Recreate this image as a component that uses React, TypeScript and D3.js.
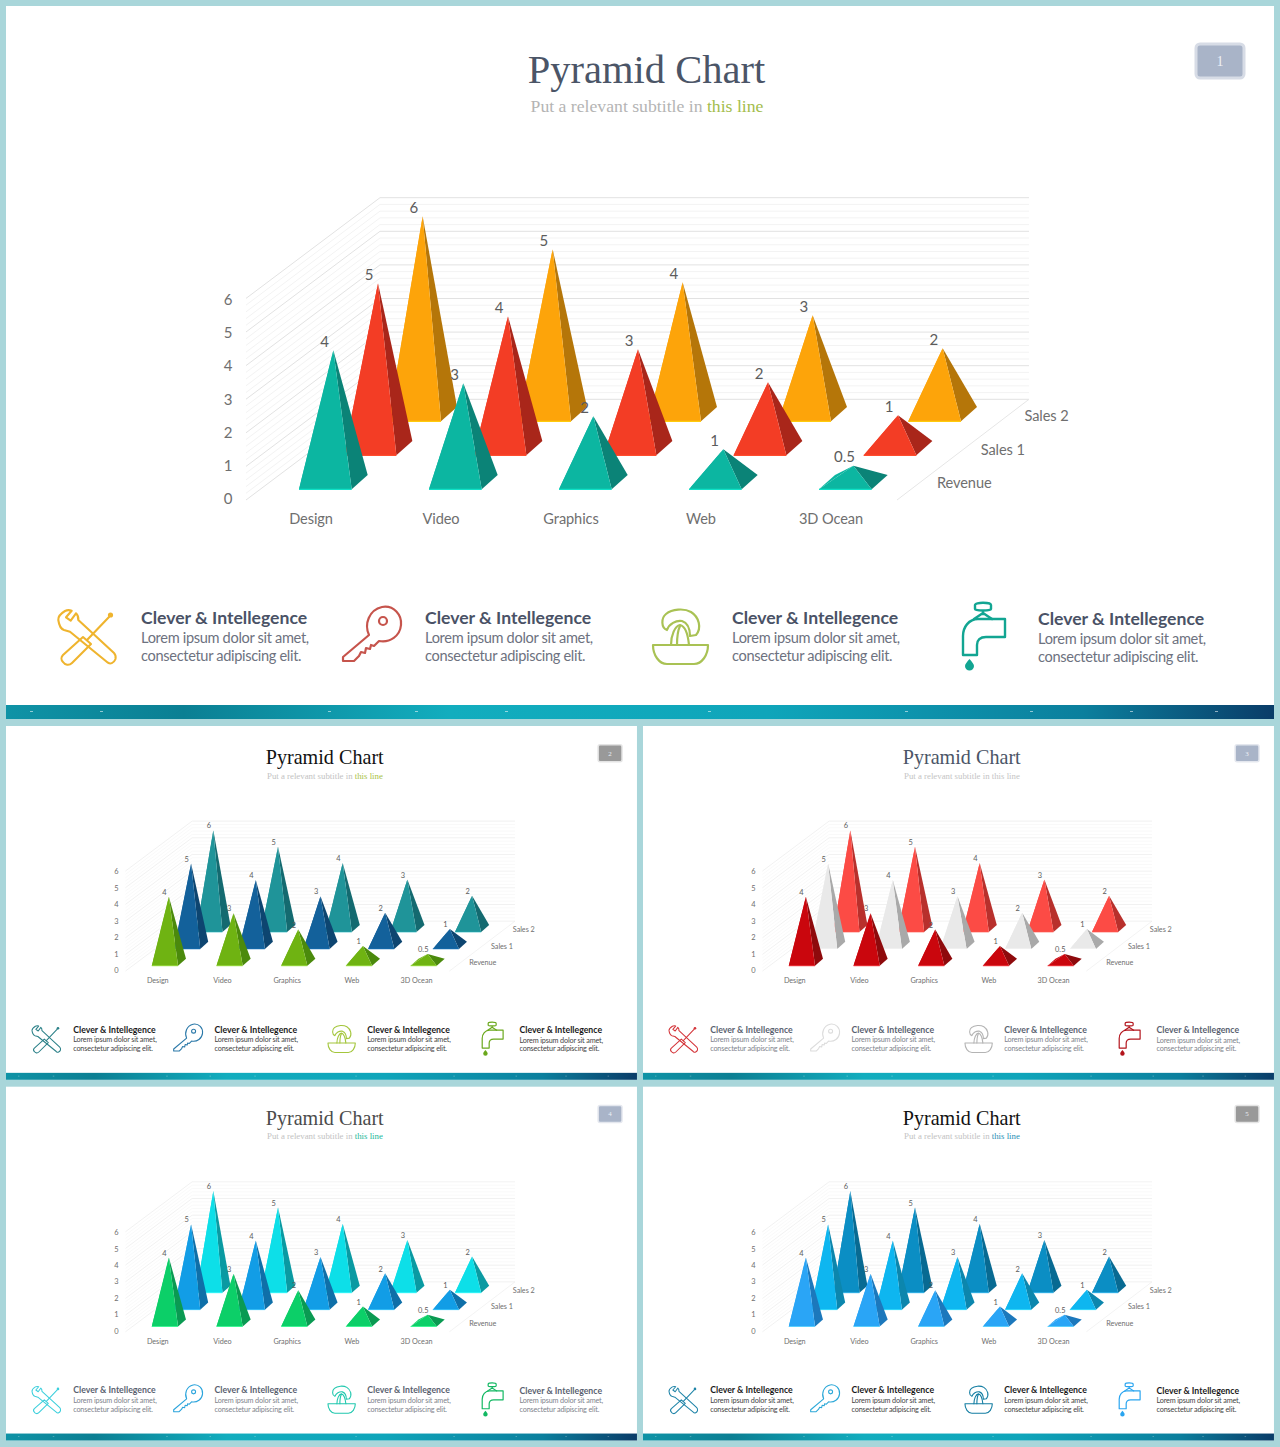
import React from "react";
import * as d3 from "d3";

const categories = ["Design", "Video", "Graphics", "Web", "3D Ocean"];
const seriesNames = ["Revenue", "Sales 1", "Sales 2"];
const revenue = [4, 3, 2, 1, 0.5];
const sales1 = [5, 4, 3, 2, 1];
const sales2 = [6, 5, 4, 3, 2];
const seriesValues = [revenue, sales1, sales2];
const yTicks = [0, 1, 2, 3, 4, 5, 6];
const minorTicks = d3.range(0, 6.01, 0.2).filter((v) => Math.abs(v - Math.round(v)) > 0.01);
const speckles = [30, 100, 328, 415, 505, 708, 905, 1030, 1130, 1215];

const heading = "Clever & Intellegence";
const bodyLine1 = "Lorem ipsum dolor sit amet,";
const bodyLine2 = "consectetur adipiscing elit.";
const blurbX = [141, 425, 732, 1038];
const blurbDy = [0, 0, 0, 1];

interface Theme {
  id: number;
  x: number;
  y: number;
  k: number;
  ky: number;
  title: string;
  sub: string;
  accent: string;
  badge: string;
  badgeEdge: string;
  head: string;
  body: string;
  front: string[];
  side: string[];
  icons: string[];
}

const themes: Theme[] = [
  { id: 1, x: 6, y: 6, k: 1, ky: 1, title: "#4b5567", sub: "#b4b4b4", accent: "#a3bd4c", badge: "#a9b4c8", badgeEdge: "#d7dce6", head: "#4a5266", body: "#6d7280",
    front: ["#0cb6a1", "#f33d25", "#fda40a"], side: ["#0b8377", "#a9261a", "#b57609"], icons: ["#efb42e", "#c6544c", "#a9c254", "#12a592"] },
  { id: 2, x: 6, y: 726, k: 0.4976, ky: 0.4962, title: "#111111", sub: "#c2c2c2", accent: "#a9c246", badge: "#999999", badgeEdge: "#e4e4e4", head: "#1a1a1a", body: "#444444",
    front: ["#6fb312", "#13619b", "#1f9499"], side: ["#4b8a0c", "#0d4570", "#146a70"], icons: ["#2b8088", "#2a78a8", "#a4c63c", "#6aa81c"] },
  { id: 3, x: 643, y: 726, k: 0.4976, ky: 0.4962, title: "#4b5567", sub: "#c4c4c4", accent: "#c4c4c4", badge: "#a9b4c8", badgeEdge: "#e4e7ee", head: "#5a6270", body: "#80848c",
    front: ["#ca060d", "#e9e9e9", "#fc4b45"], side: ["#8e0a0c", "#a9a9a9", "#b8302c"], icons: ["#d4353a", "#dcdcdc", "#b4b4b4", "#b3141c"] },
  { id: 4, x: 6, y: 1086.7, k: 0.4976, ky: 0.4962, title: "#4b4b4b", sub: "#c2c2c2", accent: "#22b89a", badge: "#a9b4c8", badgeEdge: "#e4e7ee", head: "#5a6270", body: "#80848c",
    front: ["#0ccf68", "#129de6", "#0ddfe8"], side: ["#0a9a52", "#0f6fa8", "#0a9aa2"], icons: ["#3ccfdc", "#2ba4dc", "#20c8ae", "#12b862"] },
  { id: 5, x: 643, y: 1086.7, k: 0.4976, ky: 0.4962, title: "#111111", sub: "#c2c2c2", accent: "#1f8fb5", badge: "#999999", badgeEdge: "#e4e4e4", head: "#1a1a1a", body: "#444444",
    front: ["#2aa5f6", "#0eb6f0", "#0b8ec4"], side: ["#1c78bc", "#0c86ad", "#086a92"], icons: ["#1f84a8", "#2ca8d8", "#137da2", "#2aa5f0"] },
];

// chart geometry, in the coordinates of the large slide
const floorY = 489.3;
const pyrW = 52.7;
const pyrDepth: [number, number] = [16, -14.3];
const seriesStep = d3.scalePoint<string>().domain(seriesNames).range([0, 1]);
const xScale = d3.scalePoint<string>().domain(categories).range([299, 819]);
const heightScale = d3.scaleLinear().domain([0, 6]).range([0, 198]);
const wallY = d3.scaleLinear().domain([0, 6]).range([399.3, 197.7]);
const tickLabelY = d3.scaleLinear().domain([0, 6]).range([504, 305]);
const wallLeft = 380;
const wallRight = 1029;
const wallDx = 134;
const wallDy = 100.7;
const poly = d3.line();

function Pyramid({ cat, ser, value, front, side }: { cat: string; ser: string; value: number; front: string; side: string }) {
  const t = seriesStep(ser) as number;
  const x0 = (xScale(cat) as number) + t * 89.3;
  const y0 = floorY - t * 68;
  const fl: [number, number] = [x0, y0];
  const fr: [number, number] = [x0 + pyrW, y0];
  const br: [number, number] = [fr[0] + pyrDepth[0], fr[1] + pyrDepth[1]];
  const bl: [number, number] = [fl[0] + pyrDepth[0], fl[1] + pyrDepth[1]];
  const apex: [number, number] = [x0 + (pyrW + pyrDepth[0]) / 2, y0 + pyrDepth[1] / 2 - heightScale(value)];
  const edge = d3.color(front)!.brighter(0.6).formatHex();
  return (
    <g>
      <path d={poly([fl, bl, apex])! + "Z"} fill={front} />
      <path d={poly([fr, br, apex])! + "Z"} fill={side} />
      <path d={poly([fl, fr, apex])! + "Z"} fill={front} />
      <line x1={fl[0]} x2={fr[0]} y1={y0} y2={y0} stroke={edge} strokeWidth={1.2} />
    </g>
  );
}

function apexOf(cat: string, ser: string, value: number) {
  const t = seriesStep(ser) as number;
  return {
    x: (xScale(cat) as number) + t * 89.3 + (pyrW + pyrDepth[0]) / 2,
    y: floorY - t * 68 + pyrDepth[1] / 2 - heightScale(value),
  };
}

function Chart({ th }: { th: Theme }) {
  const sans = "Lato, 'Open Sans', sans-serif";
  const grey = "#6f6f6f";
  return (
    <g>
      {minorTicks.map((v) => (
        <g key={v} stroke="#f3f3f3" strokeWidth={1}>
          <line x1={wallLeft} x2={wallRight} y1={wallY(v)} y2={wallY(v)} />
          <line x1={wallLeft} x2={wallLeft - wallDx} y1={wallY(v)} y2={wallY(v) + wallDy} />
        </g>
      ))}
      {yTicks.map((v) => (
        <g key={v} stroke="#e2e2e2" strokeWidth={1}>
          <line x1={wallLeft} x2={wallRight} y1={wallY(v)} y2={wallY(v)} />
          <line x1={wallLeft} x2={wallLeft - wallDx} y1={wallY(v)} y2={wallY(v) + wallDy} />
        </g>
      ))}
      <line x1={wallRight} x2={wallRight - 132} y1={wallY(0)} y2={wallY(0) + wallDy} stroke="#e6e6e6" />
      {yTicks.map((v) => (
        <text key={v} x={228} y={tickLabelY(v)} fontFamily={sans} fontSize={15} fill={grey} textAnchor="middle">{v}</text>
      ))}
      {[...seriesNames].reverse().map((ser) => {
        const si = seriesNames.indexOf(ser);
        const vals = seriesValues[si];
        return (
          <g key={ser}>
            {categories.map((c, i) => (
              <Pyramid key={c} cat={c} ser={ser} value={vals[i]} front={th.front[si]} side={th.side[si]} />
            ))}
          </g>
        );
      })}
      {seriesNames.map((ser, si) =>
        categories.map((c, i) => {
          const a = apexOf(c, ser, seriesValues[si][i]);
          return (
            <text key={ser + c} x={a.x - 8.8} y={a.y - 3.6} fontFamily={sans} fontSize={15} fill="#5c5c5c" textAnchor="middle">
              {seriesValues[si][i]}
            </text>
          );
        })
      )}
      {categories.map((c) => (
        <text key={c} x={(xScale(c) as number) + 12} y={524} fontFamily={sans} fontSize={14.6} letterSpacing={-0.1} fill={grey} textAnchor="middle">{c}</text>
      ))}
      {seriesNames.map((ser) => {
        const t = seriesStep(ser) as number;
        return (
          <text key={ser} x={937 + t * 87.5} y={488 - t * 67} fontFamily={sans} fontSize={14.6} letterSpacing={-0.1} fill={grey}>{ser}</text>
        );
      })}
    </g>
  );
}

function Tools({ c }: { c: string }) {
  return (
    <g transform="translate(58,609)" fill="none" stroke={c} strokeWidth={2.1} strokeLinejoin="round" strokeLinecap="round">
      <path d="M7 2 C2 5 0 8 0.3 11 C1 16 3 20 6 21 L12 22.7 L49 53 C52 56 56 54 57.5 50 C58 47 57 45 56 44 L20.3 11 C20.5 8 20 6 18 4.3 L12.7 11.7 L8 8.3 L13.7 1.7 C11 0.8 9 1 7 2 Z" />
      <path d="M25 28 L33 35 L14 54 C11 57 7 56 5 53 C3 51 3 48 5 46 Z" />
      <path d="M29 31 L51 8" />
      <circle cx={52.5} cy={6} r={2.6} fill={c} stroke="none" />
    </g>
  );
}
function Key({ c }: { c: string }) {
  return (
    <g transform="translate(342,606)" fill="none" stroke={c} strokeWidth={2.2} strokeLinejoin="round" strokeLinecap="round">
      <path d="M27 29 C22 18 27 4 40 1 C52 -1 60 9 59 19 C58 30 48 37 37 35 L32 40 L29 39 L28 43 L24 42 L23 47 L19 46 L17 50 L12 55 L1 55 L1 51 Z" />
      <circle cx={41} cy={15} r={4} />
    </g>
  );
}
function Juicer({ c }: { c: string }) {
  return (
    <g transform="translate(652,608)" fill="none" stroke={c} strokeWidth={2.2} strokeLinejoin="round" strokeLinecap="round">
      <path d="M1 37 L56 37 C56 47 50 56 42 56 L15 56 C7 56 1 47 1 37 Z" />
      <path d="M19 37 C19 27 23 18 28 17 C33 18 36 27 37 37" />
      <path d="M25 37 C25 29 26 22 28 18" />
      <path d="M15 22 C9 20 9 10 14 6 C20 1 32 0 39 4 C47 9 50 20 44 27 L38 28 M15 22 C17 16 24 12 30 13 C36 15 38 20 38 28" />
    </g>
  );
}
function Tap({ c }: { c: string }) {
  return (
    <g transform="translate(962,602)" fill="none" stroke={c} strokeWidth={2.4} strokeLinejoin="round" strokeLinecap="round">
      <path d="M16 17 L43 17 L43 35 L24 35 C18 35 15 38 15 43 L15 53 L1 53 L1 34 C1 25 7 17 16 17 Z" />
      <path d="M13 3 C13 0 29 0 29 3 L29 7 C29 9 13 9 13 7 Z M21 9 L21 12 M12 17 L21 11 L30 17" />
      <path d="M7.5 57 C5 60 3 62 3 64 a4.5 4.5 0 0 0 9 0 C12 62 10 60 7.5 57Z" fill={c} stroke="none" />
    </g>
  );
}
const iconSet = [Tools, Key, Juicer, Tap];

function Slide({ th }: { th: Theme }) {
  const sans = "Lato, 'Open Sans', sans-serif";
  const serif = "'Liberation Serif', 'DejaVu Serif', serif";
  return (
    <g transform={`translate(${th.x - 6 * th.k},${th.y - 6 * th.ky}) scale(${th.k},${th.ky})`}>
      <rect x={6} y={6} width={1268} height={713} fill="#ffffff" />
      <text x={646.5} y={83} fontFamily={serif} fontSize={40.5} fill={th.title} textAnchor="middle">Pyramid Chart</text>
      <text x={647} y={112} fontFamily={serif} fontSize={17.7} fill={th.sub} textAnchor="middle">
        Put a relevant subtitle in <tspan fill={th.accent}>this line</tspan>
      </text>
      <rect x={1196} y={44} width={48} height={34} rx={4} fill={th.badge} stroke={th.badgeEdge} strokeWidth={3} />
      <text x={1220} y={66} fontFamily={serif} fontSize={14} fill="#eef1f6" textAnchor="middle">{th.id}</text>
      <Chart th={th} />
      {iconSet.map((Icon, i) => (
        <Icon key={i} c={th.icons[i]} />
      ))}
      {blurbX.map((x, i) => (
        <g key={x}>
          <text x={x} y={624 + blurbDy[i]} fontFamily={sans} fontWeight={700} fontSize={17.6} fill={th.head}>{heading}</text>
          <text x={x} y={643 + blurbDy[i]} fontFamily={sans} fontSize={14.6} letterSpacing={-0.33} fill={th.body}>{bodyLine1}</text>
          <text x={x} y={661 + blurbDy[i]} fontFamily={sans} fontSize={14.6} letterSpacing={-0.33} fill={th.body}>{bodyLine2}</text>
        </g>
      ))}
      <rect x={6} y={705} width={1268} height={14} fill="url(#barGrad)" />
      {speckles.map((sx) => (
        <rect key={sx} x={sx} y={711} width={3} height={1} fill="#ffffff" opacity={0.55} />
      ))}
    </g>
  );
}

export default function App() {
  return (
    <svg width={1280} height={1447} viewBox="0 0 1280 1447" style={{ position: "absolute", left: 0, top: 0, display: "block" }}>
      <defs>
        <linearGradient id="barGrad" x1="0" x2="1" y1="0" y2="0">
          <stop offset="0" stopColor="#0f93a6" />
          <stop offset="0.14" stopColor="#0b7f93" />
          <stop offset="0.35" stopColor="#12adbe" />
          <stop offset="0.6" stopColor="#0fa5ba" />
          <stop offset="0.85" stopColor="#0b7f9d" />
          <stop offset="1" stopColor="#0a3c68" />
        </linearGradient>
      </defs>
      <rect width={1280} height={1447} fill="#a9d6da" />
      {themes.map((th) => (
        <Slide key={th.id} th={th} />
      ))}
    </svg>
  );
}
